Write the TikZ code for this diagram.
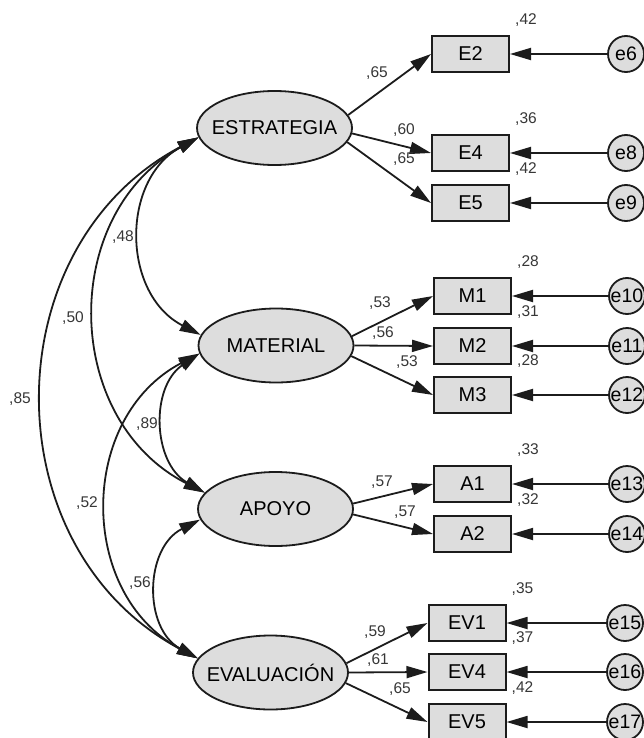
\documentclass[tikz,border=0pt]{standalone}
\usepackage{fontspec}
\setmainfont{Liberation Sans}
\usepackage{tikz}
\usetikzlibrary{arrows.meta,shapes.geometric}
\definecolor{boxgray}{RGB}{221,221,221}
\definecolor{linegray}{RGB}{28,28,28}
\definecolor{numgray}{RGB}{55,55,55}

\begin{document}
\begin{tikzpicture}[x=1pt, y=1pt, line width=1.8pt, draw=linegray,
	>={Triangle[length=21pt,width=12pt]},
	latent/.style={draw=linegray, ellipse, fill=boxgray, line width=1.8pt, minimum width=155pt, minimum height=74pt, inner xsep=-12pt, inner ysep=0pt, font=\fontsize{20}{22}\selectfont},
	obs/.style={draw=linegray, rectangle, fill=boxgray, line width=2pt, minimum width=77pt, minimum height=36.5pt, inner sep=0pt, font=\fontsize{20}{22}\selectfont},
	err/.style={draw=linegray, circle, fill=boxgray, line width=1.8pt, minimum size=36pt, inner sep=0pt, font=\fontsize{19.5}{22}\selectfont},
	coef/.style={text=numgray, inner sep=0pt, font=\fontsize{15.5}{17}\selectfont},
	cov/.style={<->, bend right=62, looseness=1.15}]
	\useasboundingbox (0,0) rectangle (644,-738);

	% factores latentes
	\node (est) [latent] at (274.5,-128) {ESTRATEGIA};
	\node (mat) [latent] at (276,-345.5) {MATERIAL};
	\node (apo) [latent] at (275.5,-509) {APOYO};
	\node (eva) [latent] at (270.5,-672.5) {EVALUACIÓN};

	% indicadores, errores y R2
	\foreach \b/\x/\y/\e/\ex/\r in {E2/470.5/54/e6/626/{,42}, E4/470.5/153/e8/626/{,36}, E5/470.5/203/e9/626/{,42},
		M1/472.5/296/e10/627/{,28}, M2/472.5/346/e11/627/{,31}, M3/472.5/395/e12/627/{,28},
		A1/472.5/484/e13/627/{,33}, A2/472.5/534/e14/627/{,32},
		EV1/467/623/e15/625/{,35}, EV4/467/672/e16/625/{,37}, EV5/467/722/e17/625/{,42}} {
		\node (\b) [obs] at (\x,-\y) {\b};
		\node (\e) [err] at (\ex,-\y) {\e};
		\draw[->] (\e) -- (\b);
		\node [coef] at ([shift={(16,15)}]\b.north east) {\r};
	}

	% cargas
	\draw[->] (est.10) -- (E2.west);
	\draw[->] (est.-4) -- (E4.west);
	\draw[->] (est.-11) -- (E5.west);
	\draw[->] (mat.7) -- (M1.west);
	\draw[->] (mat.0) -- (M2.west);
	\draw[->] (mat.-8) -- (M3.west);
	\draw[->] (apo.4) -- (A1.west);
	\draw[->] (apo.-4) -- (A2.west);
	\draw[->] (eva.7) -- (EV1.west);
	\draw[->] (eva.0) -- (EV4.west);
	\draw[->] (eva.-8) -- (EV5.west);
	\node [coef] at (377,-73) {,65};
	\node [coef] at (404,-130) {,60};
	\node [coef] at (404,-159) {,65};
	\node [coef] at (380,-303) {,53};
	\node [coef] at (383,-333) {,56};
	\node [coef] at (407,-362) {,53};
	\node [coef] at (382,-482) {,57};
	\node [coef] at (405,-512) {,57};
	\node [coef] at (375,-632) {,59};
	\node [coef] at (378,-660) {,61};
	\node [coef] at (400,-689) {,65};

	% covarianzas
	\draw[cov] (est.187) to (mat.172);
	\draw[cov] (est.187) to (apo.167);
	\draw[cov] (est.187) to (eva.169);
	\draw[cov, bend right=58, looseness=1.1] (mat.186) to (apo.167);
	\draw[cov] (mat.186) to (eva.169);
	\draw[cov] (apo.188) to (eva.169);
	\node [coef] at (123,-237) {,48};
	\node [coef] at (73,-318) {,50};
	\node [coef] at (20,-399) {,85};
	\node [coef] at (147,-424) {,89};
	\node [coef] at (87,-503) {,52};
	\node [coef] at (140,-583) {,56};
\end{tikzpicture}
\end{document}
